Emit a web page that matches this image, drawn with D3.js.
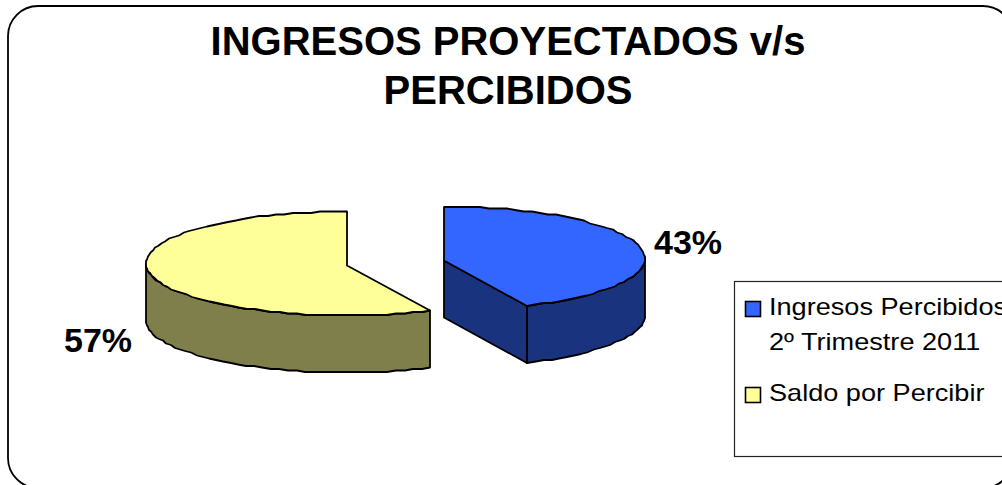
<!DOCTYPE html>
<html>
<head>
<meta charset="utf-8">
<script src="https://cdnjs.cloudflare.com/ajax/libs/d3/7.8.5/d3.min.js"></script>
<style>
    html, body { margin: 0; padding: 0; background: #fff; overflow: hidden; }
    svg { display: block; }
    text { font-family: "Liberation Sans", Arial, sans-serif; fill: #000; }
</style>
</head>
<body>
<svg id="chart" width="1002" height="485"></svg>
<script>
// data
const categories = ["Ingresos Percibidos", "Saldo por Percibir"];
const legendLines = [["Ingresos Percibidos", "2º Trimestre 2011"], ["Saldo por Percibir"]];
const values = [43.2, 56.8];
const labels = ["43%", "57%"];
const titleLines = ["INGRESOS PROYECTADOS v/s", "PERCIBIDOS"];

const topColors = ["#3366ff", "#ffff99"];
const sideColors = ["#19337f", "#7f7f4c"];
const centers = [[444, 258.5], [347, 263.5]];
const apexDrop = 2;
const labelPos = [[688, 254], [98, 352]];

const rx = 201, ry = 52, depth = 57;

let svg = d3.select("#chart");

// outer frame, runs past the right and bottom of the window
svg.append("rect")
    .attr("x", 8).attr("y", 6)
    .attr("width", 1005).attr("height", 482)
    .attr("rx", 30).attr("ry", 30)
    .attr("fill", "#fff")
    .attr("stroke", "#000")
    .attr("stroke-width", 1.8);

svg.selectAll("text.title")
    .data(titleLines)
    .join("text")
    .attr("class", "title")
    .attr("x", 508)
    .attr("y", (d, i) => 55 + i * 49)
    .attr("text-anchor", "middle")
    .attr("font-size", 40)
    .attr("font-weight", "bold")
    .text(d => d);

let arcs = d3.pie().sort(null)(values);

// pie angle to a point on the squashed ellipse, snapped to a grid so
// the rim gets the same wobbly look as the original
function rimPoint(c, a, dy) {
    return [
        Math.round(c[0] + rx * Math.sin(a)),
        Math.round((c[1] - ry * Math.cos(a)) / 1.5) * 1.5 + (dy || 0)
    ];
}

function rim(c, a0, a1, dy) {
    let n = Math.max(2, Math.round(Math.abs(a1 - a0) / 0.045));
    return d3.range(n + 1).map(i => rimPoint(c, a0 + (a1 - a0) * i / n, dy));
}

const line = d3.line().curve(d3.curveLinear);

function drawShape(g, pts, fill) {
    g.append("path")
        .attr("d", line(pts) + "Z")
        .attr("fill", fill)
        .attr("stroke", "#000")
        .attr("stroke-width", 1.8)
        .attr("stroke-linejoin", "round");
}

arcs.forEach(function (d, i) {
    let c = centers[i];
    let apex = [c[0], c[1] + apexDrop];
    let g = svg.append("g");

    // front wall: the part of the rim that faces the viewer
    let wa0 = Math.max(d.startAngle, Math.PI / 2);
    let wa1 = Math.min(d.endAngle, Math.PI * 1.5);
    let wall = rim(c, wa0, wa1, 0).concat(rim(c, wa1, wa0, depth));
    drawShape(g, wall, sideColors[i]);

    // cut face towards the viewer (only the first slice shows it)
    if (d.endAngle < Math.PI) {
        let e = rimPoint(c, d.endAngle);
        drawShape(g, [apex, e, [e[0], e[1] + depth], [apex[0], apex[1] + depth]], sideColors[i]);
    }

    let top = [apex].concat(rim(c, d.startAngle, d.endAngle, 0));
    drawShape(g, top, topColors[i]);
});

svg.selectAll("text.pct")
    .data(labels)
    .join("text")
    .attr("class", "pct")
    .attr("x", (d, i) => labelPos[i][0])
    .attr("y", (d, i) => labelPos[i][1])
    .attr("text-anchor", "middle")
    .attr("font-size", 34)
    .attr("font-weight", "bold")
    .text(d => d);

// legend
svg.append("rect")
    .attr("x", 734.5).attr("y", 281.5)
    .attr("width", 290).attr("height", 175)
    .attr("fill", "#fff")
    .attr("stroke", "#222")
    .attr("stroke-width", 1.2);

const legendY = [315, 401];
categories.forEach(function (name, i) {
    svg.append("rect")
        .attr("x", 745.5).attr("y", legendY[i] - 13.5)
        .attr("width", 15).attr("height", 15)
        .attr("fill", topColors[i])
        .attr("stroke", "#000")
        .attr("stroke-width", 1.6);
    legendLines[i].forEach(function (t, j) {
        // the original text is stretched sideways and runs off the right edge too
        svg.append("text")
            .attr("transform", "translate(769," + (legendY[i] + j * 35) + ") scale(1.13,1)")
            .attr("font-size", 24)
            .text(t);
    });
});
</script>
</body>
</html>
